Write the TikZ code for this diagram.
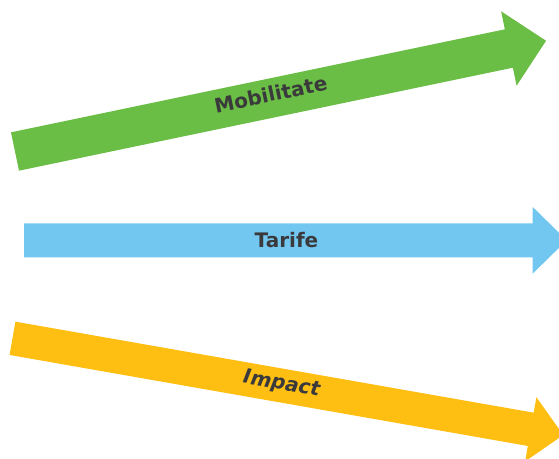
\documentclass[tikz,border=0pt]{standalone}
\usepackage{fontspec}
\setmainfont{DejaVu Sans}[BoldItalicFont={DejaVu Sans Bold Oblique},ItalicFont={DejaVu Sans Oblique}]
\definecolor{greenA}{RGB}{106,189,69}
\definecolor{blueA}{RGB}{114,199,240}
\definecolor{yellowA}{RGB}{254,191,18}
\definecolor{labelgray}{RGB}{58,58,60}
\tikzset{
  lbl/.style={text=labelgray,font=\fontsize{20}{24}\selectfont\bfseries,inner sep=0pt,anchor=center},
}
% #1 length of shaft, #2 shaft half width, #3 head half width, #4 head length
\newcommand\fatarrowpath[4]{(0,-#2) -- (#1,-#2) -- (#1,-#3) -- (#1+#4,0) -- (#1,#3) -- (#1,#2) -- (0,#2) -- cycle}
\begin{document}
\begin{tikzpicture}[x=1pt,y=1pt]
\useasboundingbox (0,0) rectangle (559,-458);
\clip (0,0) rectangle (559,-458);
% green arrow
\begin{scope}[shift={(15,-151.5)},rotate=11.78]
  \fill[greenA] \fatarrowpath{504.5}{19.6}{38}{38};
  \node[lbl,rotate=11.78] (mob) at (262,4) {Mobilitate};
\end{scope}
% blue arrow
\begin{scope}[shift={(24,-240.3)}]
  \fill[blueA] \fatarrowpath{508.7}{17}{33.3}{34};
  \node[lbl] (tar) at (262.5,0) {Tarife};
\end{scope}
% yellow arrow
\begin{scope}[shift={(12.5,-338.3)},rotate=-9.96]
  \fill[yellowA] \fatarrowpath{526.2}{16.9}{32.6}{33};
  \node[lbl,font=\fontsize{20}{24}\selectfont\bfseries\itshape,rotate=-9.96] (imp) at (273,1) {Impact};
\end{scope}
\end{tikzpicture}
\end{document}
